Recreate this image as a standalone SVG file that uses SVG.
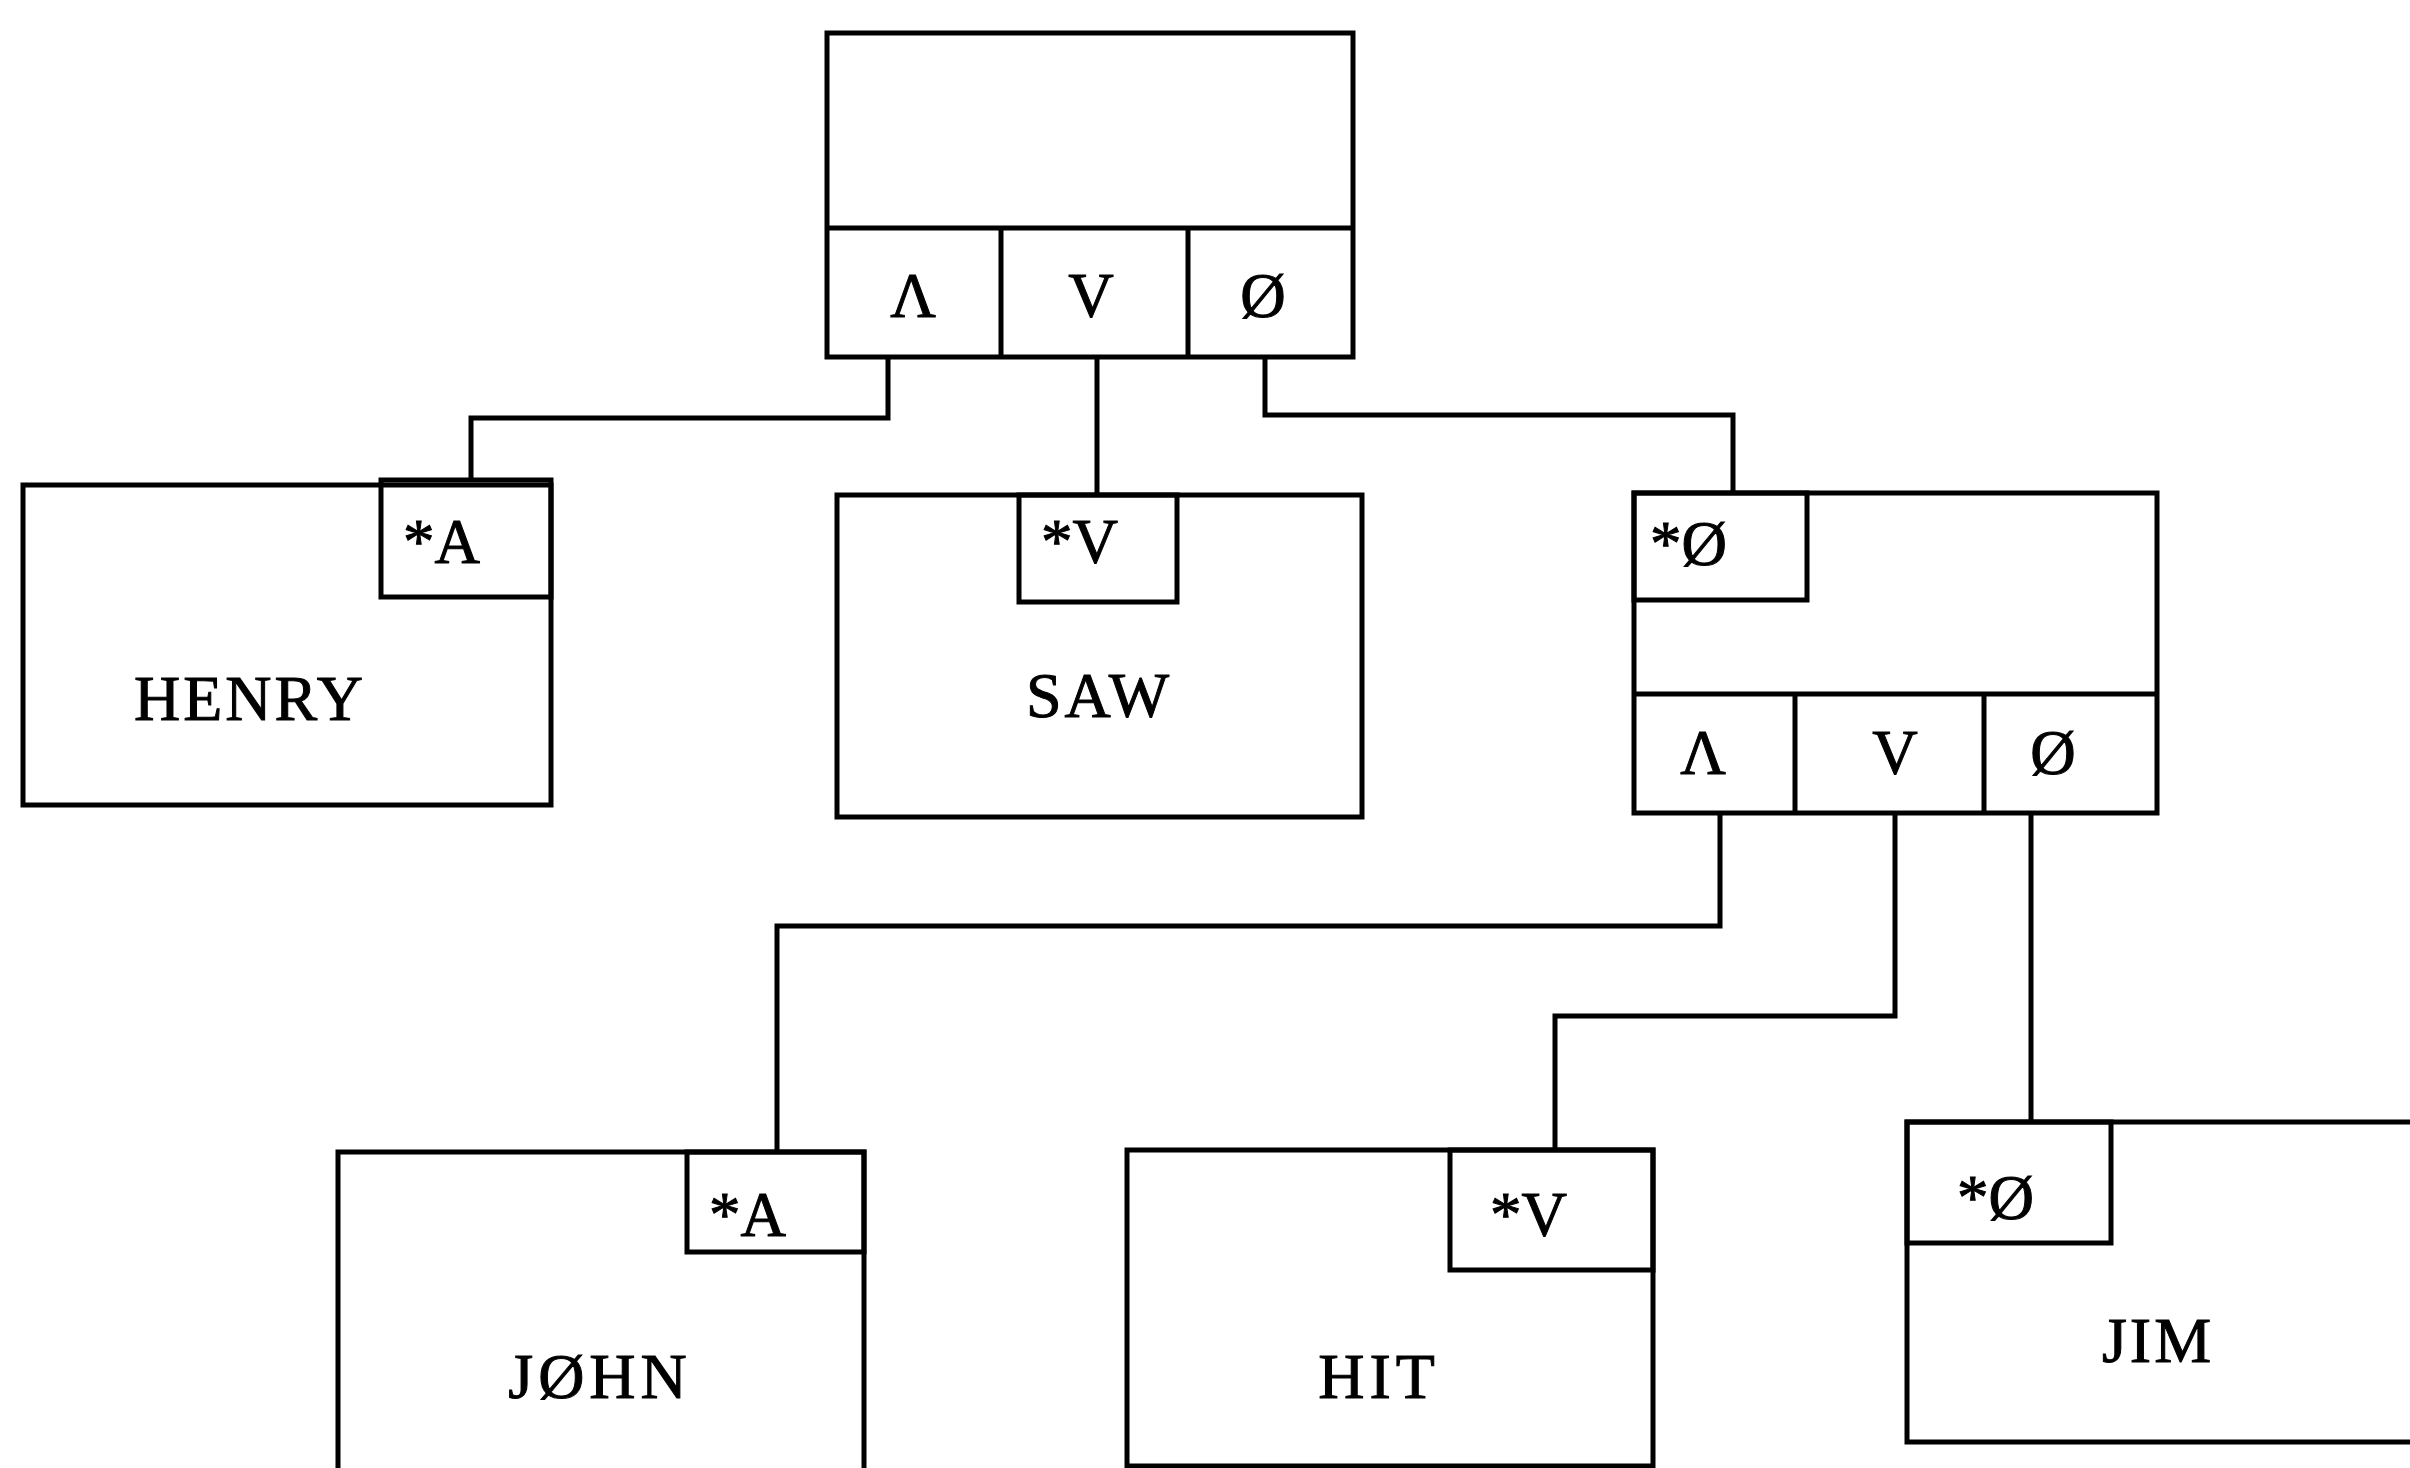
<svg xmlns="http://www.w3.org/2000/svg" width="2410" height="1468" viewBox="0 0 2410 1468">
<style>
.box{fill:none;stroke:#000;stroke-width:5;stroke-linejoin:miter}
.cn{fill:none;stroke:#000;stroke-width:5}
text{font-family:"Liberation Serif","Times New Roman",serif;fill:#000;stroke:#000;stroke-width:1;font-size:63px}
.c{text-anchor:middle}
.n{font-size:64px;letter-spacing:3px}
</style>
<rect width="2410" height="1468" fill="#fff"/>
<g id="connectors">
<polyline class="cn" points="888,357 888,418 471,418 471,480"/>
<polyline class="cn" points="1097,357 1097,495"/>
<polyline class="cn" points="1265,357 1265,415 1733,415 1733,493"/>
<polyline class="cn" points="1720,813 1720,926 777,926 777,1152"/>
<polyline class="cn" points="1895,813 1895,1016 1555,1016 1555,1150"/>
<polyline class="cn" points="2031,813 2031,1122"/>
</g>
<g id="top">
<rect class="box" x="827" y="33" width="526" height="324"/>
<line class="box" x1="827" y1="228" x2="1353" y2="228"/>
<line class="box" x1="1001" y1="228" x2="1001" y2="357"/>
<line class="box" x1="1188" y1="228" x2="1188" y2="357"/>
<text class="c" x="913" y="317">Λ</text>
<text class="c" x="1091" y="317">V</text>
<text class="c" x="1263" y="317">Ø</text>
</g>
<g id="henry">
<rect class="box" x="23" y="485" width="528" height="320"/>
<rect class="box" x="381" y="480" width="170" height="117"/>
<text x="403" y="563">*A</text>
<text class="c n" x="250" y="720">HENRY</text>
</g>
<g id="saw">
<rect class="box" x="837" y="495" width="525" height="322"/>
<rect class="box" x="1019" y="495" width="158" height="107"/>
<text x="1041" y="563">*V</text>
<text class="c n" x="1099" y="717">SAW</text>
</g>
<g id="clause">
<rect class="box" x="1634" y="493" width="523" height="320"/>
<rect class="box" x="1634" y="493" width="173" height="107"/>
<line class="box" x1="1634" y1="694" x2="2157" y2="694"/>
<line class="box" x1="1795" y1="694" x2="1795" y2="813"/>
<line class="box" x1="1984" y1="694" x2="1984" y2="813"/>
<text x="1650" y="565">*Ø</text>
<text class="c" x="1703" y="774">Λ</text>
<text class="c" x="1895" y="774">V</text>
<text class="c" x="2053" y="774">Ø</text>
</g>
<g id="john">
<rect class="box" x="338" y="1152" width="526" height="340"/>
<rect class="box" x="687" y="1152" width="177" height="100"/>
<text x="709" y="1236">*A</text>
<text class="c n" x="600" y="1398" style="letter-spacing:5px">JØHN</text>
</g>
<g id="hit">
<rect class="box" x="1127" y="1150" width="526" height="316"/>
<rect class="box" x="1450" y="1150" width="203" height="120"/>
<text x="1490" y="1236">*V</text>
<text class="c n" x="1379" y="1398" style="letter-spacing:5px">HIT</text>
</g>
<g id="jim">
<rect class="box" x="1907" y="1122" width="520" height="320"/>
<rect class="box" x="1907" y="1122" width="204" height="121"/>
<text x="1957" y="1219">*Ø</text>
<text class="c n" x="2158" y="1362">JIM</text>
</g>
</svg>
